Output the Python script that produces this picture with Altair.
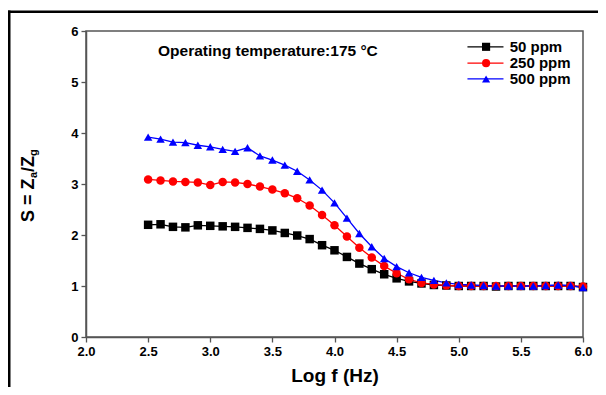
import altair as alt
import pandas as pd

# ---- data ----
log_f = [2.5, 2.6, 2.7, 2.8, 2.9, 3.0, 3.1, 3.2, 3.3, 3.4, 3.5, 3.6, 3.7, 3.8, 3.9,
         4.0, 4.1, 4.2, 4.3, 4.4, 4.5, 4.6, 4.7, 4.8, 4.9, 5.0, 5.1, 5.2, 5.3, 5.4,
         5.5, 5.6, 5.7, 5.8, 5.9, 6.0]
s_50 = [2.20, 2.21, 2.16, 2.15, 2.19, 2.18, 2.17, 2.16, 2.14, 2.12, 2.09, 2.04, 1.99,
        1.92, 1.80, 1.70, 1.57, 1.44, 1.33, 1.23, 1.15, 1.09, 1.05, 1.02, 1.01, 1.00,
        1.00, 1.00, 0.99, 1.00, 1.00, 1.00, 1.00, 1.00, 1.00, 0.98]
s_250 = [3.09, 3.07, 3.05, 3.04, 3.03, 2.98, 3.04, 3.03, 3.00, 2.95, 2.89, 2.82, 2.72,
         2.58, 2.39, 2.19, 1.97, 1.75, 1.56, 1.39, 1.25, 1.13, 1.06, 1.03, 1.01, 1.00,
         1.00, 1.00, 1.00, 1.00, 1.00, 1.00, 1.00, 1.00, 1.00, 0.99]
s_500 = [3.92, 3.88, 3.82, 3.81, 3.76, 3.73, 3.68, 3.64, 3.71, 3.55, 3.47, 3.37, 3.25,
         3.08, 2.88, 2.63, 2.33, 2.03, 1.77, 1.54, 1.38, 1.26, 1.17, 1.11, 1.06, 1.03,
         1.02, 1.01, 1.00, 1.00, 1.00, 1.00, 1.01, 1.02, 1.01, 0.97]
series_names = ["50 ppm", "250 ppm", "500 ppm"]
series_colors = ["#000000", "#ff0000", "#0000ff"]
series_shapes = ["square", "circle", "triangle-up"]
x_ticks = [2.0, 2.25, 2.5, 2.75, 3.0, 3.25, 3.5, 3.75, 4.0, 4.25, 4.5, 4.75,
           5.0, 5.25, 5.5, 5.75, 6.0]
y_ticks = [0, 0.5, 1, 1.5, 2, 2.5, 3, 3.5, 4, 4.5, 5, 5.5, 6]

rows = []
for name, vals in zip(series_names, [s_50, s_250, s_500]):
    for xv, yv in zip(log_f, vals):
        rows.append({"logf": xv, "S": yv, "series": name})
df = pd.DataFrame(rows)

# legend table (positions in data units of the shared scales)
legend_df = pd.DataFrame({
    "series": series_names,
    "ly": [5.69, 5.37, 5.06],
})
legend_df["x0"] = 5.07
legend_df["x1"] = 5.36
legend_df["xm"] = 5.22
legend_df["xt"] = 5.41

FONT = "Liberation Sans"
W, H = 497, 306
PAD = {"left": 78, "top": 23, "right": 15, "bottom": 50}

xscale = alt.Scale(domain=[2, 6], nice=False, zero=False)
yscale = alt.Scale(domain=[0, 6], nice=False, zero=False)
cscale = alt.Scale(domain=series_names, range=series_colors)
sscale = alt.Scale(domain=series_names, range=series_shapes)

x_enc = alt.X("logf:Q", scale=xscale, axis=alt.Axis(
    title="Log f (Hz)", values=x_ticks,
    labelExpr="datum.value % 0.5 == 0 ? format(datum.value, '.1f') : ''",
    labelFlush=False, titlePadding=8))
y_enc = alt.Y("S:Q", scale=yscale, axis=alt.Axis(
    title=None, values=y_ticks,
    labelExpr="datum.value % 1 == 0 ? format(datum.value, 'd') : ''"))

base = alt.Chart(df)
lines = base.mark_line(strokeWidth=1.3).encode(
    x=x_enc, y=y_enc,
    color=alt.Color("series:N", scale=cscale, legend=None),
    detail="series:N",
)
points = base.mark_point(filled=True, opacity=1, size=72).encode(
    x=alt.X("logf:Q", scale=xscale),
    y=alt.Y("S:Q", scale=yscale),
    color=alt.Color("series:N", scale=cscale, legend=None),
    shape=alt.Shape("series:N", scale=sscale, legend=None),
)

leg = alt.Chart(legend_df)
leg_lines = leg.mark_rule(strokeWidth=1.3).encode(
    x=alt.X("x0:Q", scale=xscale), x2="x1:Q",
    y=alt.Y("ly:Q", scale=yscale),
    color=alt.Color("series:N", scale=cscale, legend=None),
)
leg_pts = leg.mark_point(filled=True, opacity=1, size=66).encode(
    x=alt.X("xm:Q", scale=xscale),
    y=alt.Y("ly:Q", scale=yscale),
    color=alt.Color("series:N", scale=cscale, legend=None),
    shape=alt.Shape("series:N", scale=sscale, legend=None),
)
leg_txt = leg.mark_text(align="left", baseline="middle", font=FONT,
                        fontWeight="bold", fontSize=15, color="#000").encode(
    x=alt.X("xt:Q", scale=xscale),
    y=alt.Y("ly:Q", scale=yscale),
    text="series:N",
)

one = alt.Data(values=[{}])
annot = alt.Chart(one).mark_text(
    text="Operating temperature:175 °C", align="left", baseline="alphabetic",
    font=FONT, fontWeight="bold", fontSize=15.5, color="#000").encode(
    x=alt.value(72), y=alt.value(25))

# y title built from pieces so that a and g are subscripts
def ytxt(t, x, y, size):
    return alt.Chart(one).mark_text(
        text=t, angle=270, align="left", baseline="middle", font=FONT,
        fontWeight="bold", fontSize=size, color="#000").encode(
        x=alt.value(x), y=alt.value(y))

yt = (ytxt("S = Z", -57, 191, 18) + ytxt("a", -52, 147, 11)
      + ytxt("/Z", -57, 141, 18) + ytxt("g", -52, 125, 11))

# outer picture frame: left and top edges, kept inside the drawing area
right_edge = W + PAD["right"]
bottom_edge = H + PAD["bottom"]
frame_left = alt.Chart(one).mark_rect(fill="#000", strokeWidth=0).encode(
    x=alt.value(-78), x2=alt.value(-75.5),
    y=alt.value(-20.5), y2=alt.value(bottom_edge))
frame_top = alt.Chart(one).mark_rect(fill="#000", strokeWidth=0).encode(
    x=alt.value(-78), x2=alt.value(right_edge),
    y=alt.value(-20.5), y2=alt.value(-18))

chart = alt.layer(
    lines, points, leg_lines, leg_pts, leg_txt, annot, yt, frame_left, frame_top
).properties(
    width=W, height=H,
    autosize=alt.AutoSizeParams(type="none"),
    padding=PAD,
    background="#ffffff",
).configure_view(
    stroke="#555555", strokeWidth=1.5
).configure_axis(
    grid=False,
    domainColor="#555555", domainWidth=1.5,
    tickColor="#555555", tickWidth=1.3, tickSize=5,
    labelFont=FONT, labelFontWeight="bold", labelFontSize=13, labelColor="#000",
    labelPadding=3,
    titleFont=FONT, titleFontWeight="bold", titleFontSize=19, titleColor="#000",
)

chart.save("out.html", embed_options={"renderer": "svg", "actions": False})
